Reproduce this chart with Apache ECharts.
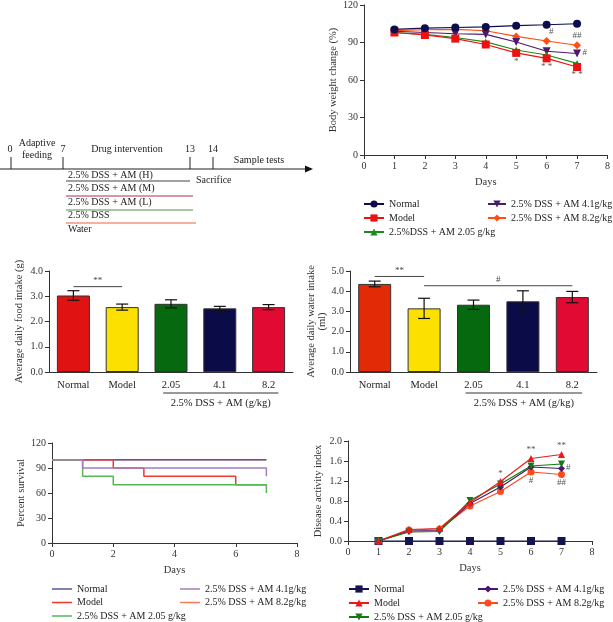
<!DOCTYPE html>
<html>
<head>
<meta charset="utf-8">
<script src="https://cdn.jsdelivr.net/npm/echarts@6/dist/echarts.min.js"></script>
<style>
  html, body { margin: 0; padding: 0; background: #fff; }
  #main { width: 613px; height: 622px; }
</style>
</head>
<body>
<div id="main"></div>
<script>
var FONT = '"Liberation Serif", "DejaVu Serif", serif';

// body weight change (%) per day
var days = [1, 2, 3, 4, 5, 6, 7];
var bwNormal = [100.5, 101.5, 102, 102.5, 103.5, 104.2, 105];
var bwModel  = [98, 96, 93.1, 88.4, 81.7, 77.3, 70.4];
var bwLow    = [98, 96.5, 94, 90.5, 84, 80, 73.3];
var bwMid    = [99, 98, 97, 96.5, 90.4, 83, 81.2];
var bwHigh   = [99.5, 100.2, 100.5, 99.4, 94.9, 91.2, 87.8];

// food / water intake
var groups   = ['Normal', 'Model', '2.05', '4.1', '8.2'];
var food     = [3.03, 2.57, 2.70, 2.52, 2.57];
var foodErr  = [0.19, 0.12, 0.16, 0.08, 0.10];
var water    = [4.36, 3.15, 3.33, 3.50, 3.71];
var waterErr = [0.14, 0.50, 0.23, 0.52, 0.28];
var foodColors  = ['#e01212', '#fbe000', '#07690f', '#0b0b48', '#e00a32'];
var waterColors = ['#e22a06', '#fbe000', '#07690f', '#0b0b48', '#e00a32'];

// survival (%) step points [day, value]
var svNormal = [[0, 100], [7, 100]];
var svModel  = [[0, 100], [2, 90], [3, 80], [6, 70], [7, 70]];
var svLow    = [[0, 100], [1, 80], [2, 70], [7, 60]];
var svMid    = [[0, 100], [1, 90], [7, 80]];
var svHigh   = [[0, 100], [7, 100]];

// disease activity index
var daiNormal = [0, 0, 0, 0, 0, 0, 0];
var daiModel  = [0, 0.23, 0.25, 0.77, 1.19, 1.65, 1.73];
var daiLow    = [0, 0.18, 0.19, 0.81, 1.14, 1.50, 1.54];
var daiMid    = [0, 0.20, 0.21, 0.75, 1.08, 1.48, 1.45];
var daiHigh   = [0, 0.22, 0.24, 0.70, 0.99, 1.38, 1.33];

// significance marks [x, y, text]
var bwMarks  = [[5, 75, '*'], [6, 71, '* *'], [7, 64, '* *'], [6.15, 99, '#'], [7, 95.5, '##'], [7.25, 81.5, '#']];
var daiMarks = [[5, 1.34, '*'], [6, 1.82, '**'], [7, 1.9, '**'], [6, 1.2, '#'], [7, 1.16, '##'], [7.22, 1.46, '#']];
var foodBrackets  = [[0, 1, 3.38, '**']];
var waterBrackets = [[0, 1, 4.73, '**'], [1, 4, 4.27, '#']];

function pairs(arr) {
  return days.map(function (d, i) { return [d, arr[i]]; });
}

var axisLine = { lineStyle: { color: '#333', width: 1 } };
var axisTick = { length: 4, lineStyle: { color: '#333' } };
var axisLabel = { fontFamily: FONT, fontSize: 10, color: '#333', margin: 6 };
var nameStyle = { fontFamily: FONT, fontSize: 10.5, color: '#333' };

function xVal(gi, interval) {
  return {
    type: 'value', gridIndex: gi, min: 0, max: 8, interval: interval,
    name: 'Days', nameLocation: 'middle', nameGap: 22, nameTextStyle: nameStyle,
    axisLine: axisLine, axisTick: axisTick, axisLabel: axisLabel, splitLine: { show: false }
  };
}
function xCat(gi) {
  return {
    type: 'category', gridIndex: gi, data: groups,
    axisLine: axisLine, axisTick: { show: false },
    axisLabel: { fontFamily: FONT, fontSize: 10.5, color: '#222', margin: 8 }
  };
}
function yVal(gi, max, interval, name, gap, digits) {
  return {
    type: 'value', gridIndex: gi, min: 0, max: max, interval: interval,
    name: name, nameLocation: 'middle', nameGap: gap, nameTextStyle: nameStyle,
    axisLine: { show: true, lineStyle: { color: '#333', width: 1 } },
    axisTick: { show: true, length: 4, lineStyle: { color: '#333' } },
    axisLabel: {
      fontFamily: FONT, fontSize: 10, color: '#333', margin: 6,
      formatter: function (v) { return digits ? v.toFixed(digits) : String(v); }
    },
    splitLine: { show: false }
  };
}

function lineSeries(name, gi, data, color, symbol, size, rotate) {
  return {
    type: 'line', name: name, xAxisIndex: gi, yAxisIndex: gi, data: data,
    symbol: symbol, symbolSize: size, symbolRotate: rotate || 0,
    lineStyle: { color: color, width: 1.2 }, itemStyle: { color: color },
    animation: false
  };
}
function stepSeries(name, data, color, z) {
  return {
    type: 'line', name: name, xAxisIndex: 3, yAxisIndex: 3, data: data, step: 'end',
    symbol: 'none', showSymbol: false, z: z,
    lineStyle: { color: color, width: 1.5 }, itemStyle: { color: color },
    animation: false
  };
}
function barSeries(gi, vals, colors) {
  return {
    type: 'bar', xAxisIndex: gi, yAxisIndex: gi, barWidth: 33,
    data: vals.map(function (v, i) {
      return { value: v, itemStyle: { color: colors[i], borderColor: '#333', borderWidth: 1 } };
    }),
    animation: false
  };
}
function errSeries(gi, vals, errs) {
  return {
    type: 'custom', xAxisIndex: gi, yAxisIndex: gi, z: 10, animation: false,
    data: vals.map(function (v, i) { return [i, v - errs[i], v + errs[i]]; }),
    renderItem: function (params, api) {
      var lo = api.coord([api.value(0), api.value(1)]);
      var hi = api.coord([api.value(0), api.value(2)]);
      var w = 6, st = { stroke: '#111', lineWidth: 1.2 };
      return {
        type: 'group', children: [
          { type: 'line', shape: { x1: hi[0], y1: hi[1], x2: lo[0], y2: lo[1] }, style: st },
          { type: 'line', shape: { x1: hi[0] - w, y1: hi[1], x2: hi[0] + w, y2: hi[1] }, style: st },
          { type: 'line', shape: { x1: lo[0] - w, y1: lo[1], x2: lo[0] + w, y2: lo[1] }, style: st }
        ]
      };
    }
  };
}
function legend(names, left, top, plain, iw) {
  var l = {
    data: names, left: left, top: top, orient: 'vertical', padding: 0,
    itemGap: 4, itemWidth: iw || 20, itemHeight: 9, selectedMode: false,
    textStyle: { fontFamily: FONT, fontSize: 10, color: '#222' },
    formatter: function (n) { return n.split('|')[0]; }
  };
  if (plain) {
    l.icon = 'path://M0,0L20,0L20,1.5L0,1.5Z';
    l.itemHeight = 1.5;
    l.itemGap = 3.5;
  }
  return l;
}

var option = {
  backgroundColor: '#fff',
  animation: false,
  grid: [
    { left: 364, top: 3, width: 245, height: 152 },
    { left: 49, top: 271, width: 244, height: 101 },
    { left: 350, top: 271, width: 247, height: 101 },
    { left: 52, top: 443, width: 245, height: 100 },
    { left: 348, top: 441, width: 244, height: 100 }
  ],
  xAxis: [xVal(0, 1), xCat(1), xCat(2), xVal(3, 2), xVal(4, 1)],
  yAxis: [
    yVal(0, 120, 30, 'Body weight change (%)', 25, 0),
    yVal(1, 4, 1, 'Average daily food intake (g)', 24, 1),
    yVal(2, 5, 1, 'Average daily water intake\n(ml)', 19, 1),
    yVal(3, 120, 30, 'Percent survival', 23, 0),
    yVal(4, 2, 0.4, 'Disease activity index', 24, 1)
  ],
  legend: [
    legend(['Normal|B', 'Model|B', '2.5%DSS + AM 2.05 g/kg|B'], 363, 199),
    legend(['2.5% DSS + AM 4.1g/kg|B', '2.5% DSS + AM 8.2g/kg|B'], 487, 199, false, 18),
    legend(['Normal|E', 'Model|E', '2.5% DSS + AM 2.05 g/kg|E'], 52, 584, true),
    legend(['2.5% DSS + AM 4.1g/kg|E', '2.5% DSS + AM 8.2g/kg|E'], 180, 584, true),
    legend(['Normal|F', 'Model|F', '2.5% DSS + AM 2.05 g/kg|F'], 348, 584),
    legend(['2.5% DSS + AM 4.1g/kg|F', '2.5% DSS + AM 8.2g/kg|F'], 477, 584)
  ],
  series: [
    lineSeries('2.5% DSS + AM 8.2g/kg|B', 0, pairs(bwHigh), '#ff4d14', 'diamond', 8),
    lineSeries('2.5% DSS + AM 4.1g/kg|B', 0, pairs(bwMid), '#4b1a6b', 'triangle', 8, 180),
    lineSeries('2.5%DSS + AM 2.05 g/kg|B', 0, pairs(bwLow), '#1b8b1b', 'triangle', 7),
    lineSeries('Model|B', 0, pairs(bwModel), '#ee1111', 'rect', 8),
    lineSeries('Normal|B', 0, pairs(bwNormal), '#0d0d4d', 'circle', 8),

    barSeries(1, food, foodColors),
    errSeries(1, food, foodErr),
    barSeries(2, water, waterColors),
    errSeries(2, water, waterErr),

    stepSeries('2.5% DSS + AM 8.2g/kg|E', svHigh, '#ff7a5a', 2),
    stepSeries('Normal|E', svNormal, '#5555a5', 3),
    stepSeries('Model|E', svModel, '#f03a2a', 4),
    stepSeries('2.5% DSS + AM 2.05 g/kg|E', svLow, '#55b855', 4),
    stepSeries('2.5% DSS + AM 4.1g/kg|E', svMid, '#a27cc2', 4),

    lineSeries('Normal|F', 4, pairs(daiNormal), '#141450', 'rect', 8),
    lineSeries('2.5% DSS + AM 8.2g/kg|F', 4, pairs(daiHigh), '#ff4a1a', 'circle', 7),
    lineSeries('2.5% DSS + AM 4.1g/kg|F', 4, pairs(daiMid), '#4a1a6a', 'diamond', 7),
    lineSeries('2.5% DSS + AM 2.05 g/kg|F', 4, pairs(daiLow), '#137a13', 'triangle', 7, 180),
    lineSeries('Model|F', 4, pairs(daiModel), '#ee1a1a', 'triangle', 7)
  ]
};

var chart = echarts.init(document.getElementById('main'));
chart.setOption(option);

function txt(x, y, t, o) {
  o = o || {};
  return {
    type: 'text', x: x, y: y, silent: true,
    style: {
      text: t, font: (o.size || 10) + 'px ' + FONT, fill: o.fill || '#222',
      align: o.align || 'center', verticalAlign: 'middle'
    }
  };
}
function seg(x1, y1, x2, y2, color, w) {
  return {
    type: 'line', silent: true, shape: { x1: x1, y1: y1, x2: x2, y2: y2 },
    style: { stroke: color || '#333', lineWidth: w || 1 }
  };
}

// timeline diagram (panel A)
var gfx = [];
gfx.push(seg(0, 169, 306, 169, '#222', 1.2));
gfx.push({ type: 'polygon', silent: true, shape: { points: [[305, 165.5], [313, 169], [305, 172.5]] }, style: { fill: '#111' } });
[11, 63, 190, 213].forEach(function (x) { gfx.push(seg(x, 157, x, 169, '#222', 1)); });
gfx.push(txt(10, 149, '0'), txt(63, 149, '7'), txt(190, 149, '13'), txt(213, 149, '14'));
gfx.push(txt(37, 143, 'Adaptive'), txt(37, 155, 'feeding'));
gfx.push(txt(127, 149, 'Drug intervention'), txt(259, 160, 'Sample tests'));
gfx.push(txt(68, 175, '2.5% DSS + AM (H)', { align: 'left' }), seg(66, 181, 190, 181, '#444', 1.2));
gfx.push(txt(196, 180, 'Sacrifice', { align: 'left' }));
gfx.push(txt(68, 188, '2.5% DSS + AM (M)', { align: 'left' }), seg(66, 196, 193, 196, '#b0304a', 1.2));
gfx.push(txt(68, 202, '2.5% DSS + AM (L)', { align: 'left' }), seg(66, 210, 193, 210, '#5a8a5a', 1.2));
gfx.push(txt(68, 215, '2.5% DSS', { align: 'left' }), seg(66, 223, 196, 223, '#f06040', 1.2));
gfx.push(txt(68, 229, 'Water', { align: 'left' }));

// star / hash marks on line charts
bwMarks.forEach(function (m) {
  var p = chart.convertToPixel({ gridIndex: 0 }, [m[0], m[1]]);
  gfx.push(txt(p[0], p[1], m[2], { size: 9, fill: '#555' }));
});
daiMarks.forEach(function (m) {
  var p = chart.convertToPixel({ gridIndex: 4 }, [m[0], m[1]]);
  gfx.push(txt(p[0], p[1], m[2], { size: 9, fill: '#555' }));
});

// brackets and group lines on bar charts
function barNotes(gi, brackets) {
  brackets.forEach(function (b) {
    var a = chart.convertToPixel({ gridIndex: gi }, [b[0], b[2]]);
    var c = chart.convertToPixel({ gridIndex: gi }, [b[1], b[2]]);
    gfx.push(seg(a[0], a[1], c[0], c[1], '#444', 1));
    gfx.push(txt((a[0] + c[0]) / 2, a[1] - 6, b[3], { size: 9, fill: '#444' }));
  });
  var p2 = chart.convertToPixel({ gridIndex: gi }, [2, 0]);
  var p4 = chart.convertToPixel({ gridIndex: gi }, [4, 0]);
  var band = (p4[0] - p2[0]) / 2;
  var y = p2[1] + 21;
  gfx.push(seg(p2[0] - 0.16 * band, y, p4[0] + 0.2 * band, y, '#333', 1));
  gfx.push(txt((p2[0] + p4[0]) / 2 + 0.02 * band, y + 10, '2.5% DSS + AM (g/kg)', { size: 10.5 }));
}
barNotes(1, foodBrackets);
barNotes(2, waterBrackets);

chart.setOption({ graphic: { elements: gfx } });
</script>
</body>
</html>
